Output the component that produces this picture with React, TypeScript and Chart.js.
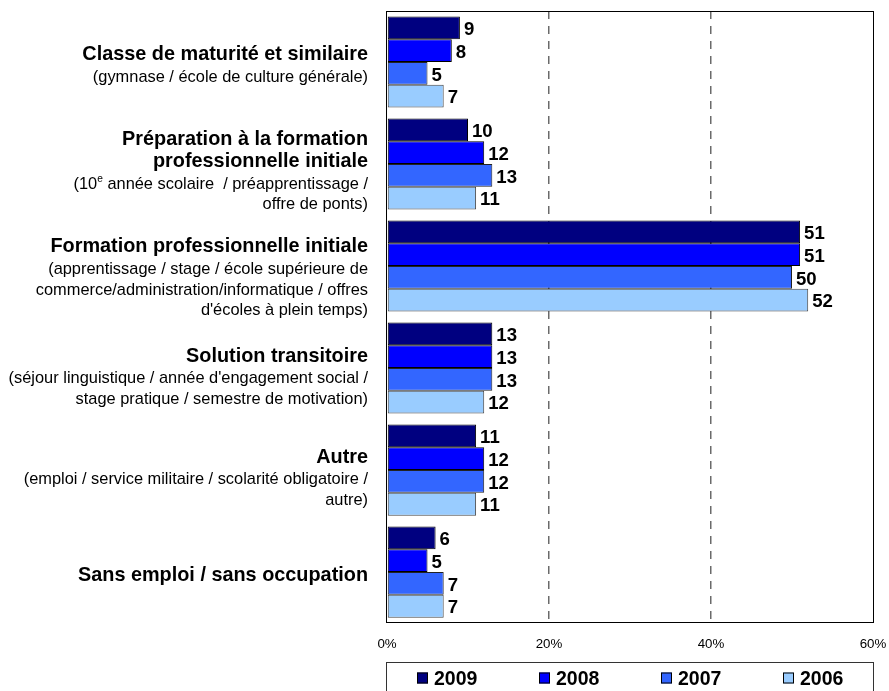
import { useEffect, useRef } from "react";
import { Chart, registerables } from "chart.js";

Chart.register(...registerables);

const FONT = "'Liberation Sans', Arial, Helvetica, sans-serif";

// ---- data ----
const categoryTitles: string[][] = [
  ["Classe de maturité et similaire"],
  ["Préparation à la formation", "professionnelle initiale"],
  ["Formation professionnelle initiale"],
  ["Solution transitoire"],
  ["Autre"],
  ["Sans emploi / sans occupation"],
];
// "^e" marks a superscript letter
const categoryNotes: string[][] = [
  ["(gymnase / école de culture générale)"],
  ["(10^e année scolaire  / préapprentissage /", "offre de ponts)"],
  [
    "(apprentissage / stage / école supérieure de",
    "commerce/administration/informatique / offres",
    "d'écoles à plein temps)",
  ],
  ["(séjour linguistique / année d'engagement social /", "stage pratique / semestre de motivation)"],
  ["(emploi / service militaire / scolarité obligatoire /", "autre)"],
  [],
];
const years = ["2009", "2008", "2007", "2006"];
const values2009 = [9, 10, 51, 13, 11, 6];
const values2008 = [8, 12, 51, 13, 12, 5];
const values2007 = [5, 13, 50, 13, 12, 7];
const values2006 = [7, 11, 52, 12, 11, 7];
const xTicks = [0, 20, 40, 60];

const seriesValues = [values2009, values2008, values2007, values2006];
const fillColors = ["#000080", "#0000FF", "#3366FF", "#99CCFF"];
const edgeColors = ["#000000", "#000000", "#222222", "#444444"];

// ---- drawing helpers ----
function richParts(text: string) {
  const raw = text.split(/\^(.)/);
  return raw.map((t, i) => ({ t, sup: i % 2 === 1 })).filter((p) => p.t.length);
}

function drawRichRight(ctx: CanvasRenderingContext2D, text: string, xRight: number, y: number, size: number, weight: string) {
  const parts = richParts(text);
  const mainFont = `${weight} ${size}px ${FONT}`;
  const supFont = `${weight} ${size * 0.62}px ${FONT}`;
  let total = 0;
  const widths = parts.map((p) => {
    ctx.font = p.sup ? supFont : mainFont;
    const w = ctx.measureText(p.t).width;
    total += w;
    return w;
  });
  let x = xRight - total;
  ctx.textAlign = "left";
  ctx.textBaseline = "middle";
  parts.forEach((p, i) => {
    ctx.font = p.sup ? supFont : mainFont;
    ctx.fillText(p.t, x, p.sup ? y - size * 0.33 : y);
    x += widths[i];
  });
}

const TITLE_SIZE = 19.85;
const NOTE_SIZE = 16.4;
const TITLE_LH = 22.5;
const NOTE_LH = 20.2;
const TITLE_NOTE_GAP = 1.5;
const LABEL_NUDGE = [3, 7.5, 12, 9, 8, 3];

const categoryLabelPlugin = {
  id: "categoryLabels",
  afterDraw(chart: any) {
    const { ctx, chartArea } = chart;
    const yScale = chart.scales.y;
    const xRight = chartArea.left - 19;
    ctx.save();
    ctx.fillStyle = "#000";
    categoryTitles.forEach((titles, i) => {
      const notes = categoryNotes[i];
      const gap = notes.length ? TITLE_NOTE_GAP : 0;
      const h = titles.length * TITLE_LH + gap + notes.length * NOTE_LH;
      const cy = yScale.getPixelForValue(i) + LABEL_NUDGE[i];
      let y = cy - h / 2;
      titles.forEach((t) => {
        drawRichRight(ctx, t, xRight, y + TITLE_LH / 2, TITLE_SIZE, "bold");
        y += TITLE_LH;
      });
      y += gap;
      notes.forEach((t) => {
        drawRichRight(ctx, t, xRight, y + NOTE_LH / 2, NOTE_SIZE, "normal");
        y += NOTE_LH;
      });
    });
    ctx.restore();
  },
};

const valueLabelPlugin = {
  id: "valueLabels",
  afterDatasetsDraw(chart: any) {
    const { ctx } = chart;
    ctx.save();
    ctx.fillStyle = "#000";
    ctx.font = `bold 18.6px ${FONT}`;
    ctx.textAlign = "left";
    ctx.textBaseline = "middle";
    chart.data.datasets.forEach((ds: any, di: number) => {
      const meta = chart.getDatasetMeta(di);
      meta.data.forEach((bar: any, i: number) => {
        ctx.fillText(String(ds.data[i]), bar.x + 4, bar.y + 2);
      });
    });
    ctx.restore();
  },
};

const frameAndLegendPlugin = {
  id: "frameAndLegend",
  afterDraw(chart: any) {
    const { ctx, chartArea } = chart;
    ctx.save();
    ctx.strokeStyle = "#000";
    ctx.lineWidth = 1;
    ctx.strokeRect(
      Math.round(chartArea.left) - 0.5,
      Math.round(chartArea.top) + 0.5,
      Math.round(chartArea.right - chartArea.left) + 1,
      Math.round(chartArea.bottom - chartArea.top) - 1
    );

    // legend box
    const boxTop = 662.5;
    ctx.strokeStyle = "#333";
    ctx.strokeRect(Math.round(chartArea.left) - 0.5, boxTop, Math.round(chartArea.right - chartArea.left) + 1, 60);

    const spacing = 122.3;
    const n = chart.data.datasets.length;
    const center = (chartArea.left + chartArea.right) / 2;
    const startX = center - (spacing * (n - 1)) / 2 - 30;
    const cy = 678.5;
    ctx.font = `bold 19.5px ${FONT}`;
    ctx.textAlign = "left";
    ctx.textBaseline = "middle";
    chart.data.datasets.forEach((ds: any, i: number) => {
      const x = Math.round(startX + i * spacing);
      ctx.fillStyle = ds.backgroundColor;
      ctx.fillRect(x, cy - 6, 11, 11);
      ctx.strokeStyle = "#000";
      ctx.strokeRect(x + 0.5, cy - 5.5, 10, 10);
      ctx.fillStyle = "#000";
      ctx.fillText(ds.label, x + 17, cy + 1);
    });
    ctx.restore();
  },
};

export default function App() {
  const canvasRef = useRef<HTMLCanvasElement | null>(null);

  useEffect(() => {
    document.body.style.margin = "0";
    const canvas = canvasRef.current;
    if (!canvas) return;
    const chart = new Chart(canvas, {
      type: "bar",
      data: {
        labels: categoryTitles.map((t) => t.join(" ")),
        datasets: years.map((y, i) => ({
          label: y,
          data: seriesValues[i],
          backgroundColor: fillColors[i],
          borderColor: edgeColors[i],
          borderWidth: 1,
          borderSkipped: false,
          categoryPercentage: 0.894,
          barPercentage: 1.0,
        })),
      },
      options: {
        indexAxis: "y",
        responsive: false,
        animation: false,
        devicePixelRatio: 1,
        layout: { padding: { left: 387, right: 16, top: 11, bottom: 26 } },
        plugins: {
          legend: { display: false },
          tooltip: { enabled: false },
          title: { display: false },
        },
        scales: {
          x: {
            min: 0,
            max: 60,
            afterBuildTicks: (axis: any) => {
              axis.ticks = xTicks.map((v) => ({ value: v }));
            },
            afterFit: (axis: any) => {
              axis.paddingLeft = 0;
              axis.paddingRight = 0;
            },
            ticks: {
              callback: (v: any) => `${v}%`,
              font: { family: FONT, size: 13.3 },
              color: "#000",
              padding: 13,
              maxRotation: 0,
            },
            grid: {
              drawTicks: false,
              lineWidth: 1.5,
              color: (c: any) => (c.tick && (c.tick.value === 20 || c.tick.value === 40) ? "#6a6a6a" : "rgba(0,0,0,0)"),
            },
            border: { display: false, dash: [8, 7] },
          },
          y: {
            display: false,
            grid: { display: false },
          },
        },
      },
      plugins: [valueLabelPlugin, categoryLabelPlugin, frameAndLegendPlugin],
    } as any);
    return () => chart.destroy();
  }, []);

  return (
    <div style={{ width: 889, height: 691 }}>
      <canvas ref={canvasRef} width={889} height={691} style={{ display: "block" }} />
    </div>
  );
}
